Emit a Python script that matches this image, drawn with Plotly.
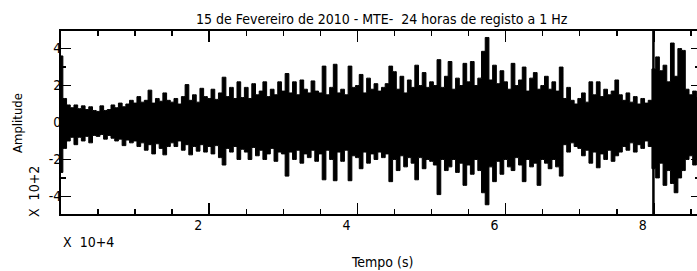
import plotly.graph_objects as go

# ---- data (amplitude in units of 10^2, time in seconds) ----
SAMPLE_STEP_S = 500

upper_amp = [
    3.6, 1.3, 0.95, 0.8, 0.95, 0.75, 0.9, 0.7, 0.85, 0.65,
    0.6, 0.9, 0.65, 0.7, 0.95, 0.8, 1.05, 0.85, 1.0, 1.2,
    1.05, 1.4, 1.1, 1.2, 1.75, 1.05, 1.3, 1.15, 1.6, 1.2,
    1.1, 1.3, 1.0, 1.4, 2.05, 1.2, 1.5, 1.1, 1.85, 1.4,
    1.3, 1.8, 1.25, 1.6, 2.45, 1.4, 1.9, 1.3, 2.2, 1.35,
    1.9, 1.3, 2.1, 1.5, 1.7, 2.2, 1.4, 1.8, 1.5, 2.2,
    1.7, 2.65, 1.6, 2.2, 1.5, 2.3, 1.8, 1.6, 2.25, 1.7,
    1.6, 3.05, 1.5, 1.9, 3.15, 1.6, 1.8, 1.5, 3.05, 1.9,
    2.0, 2.6, 1.6, 2.4, 1.8, 2.1, 1.7, 1.9, 2.1, 3.05,
    2.75, 1.8, 2.5, 1.6, 2.3, 1.9, 3.1, 2.0, 2.7, 1.9,
    2.2, 2.0, 3.4, 1.9, 2.5, 3.3, 1.8, 2.4, 2.0, 3.2,
    2.2, 3.3, 2.0, 2.4, 3.85, 4.6, 2.3, 3.1, 2.1, 2.8,
    2.2, 1.8, 3.2, 2.0, 2.3, 3.0, 1.7, 2.4, 2.7, 1.8,
    2.0, 2.5, 1.8, 2.2, 1.7, 3.0, 1.3, 1.9, 1.2, 1.0,
    1.3, 1.6, 1.1, 2.2, 1.5, 2.2, 1.4, 1.8, 1.5, 1.7,
    2.3, 1.5, 1.2, 1.6, 1.1, 1.4, 1.0, 1.3, 1.05, 1.2,
    2.9, 3.55, 2.8, 3.1, 2.2, 4.3, 2.5, 4.0, 3.9, 1.8, 1.5, 1.7, 1.4,
]

lower_amp = [
    -2.7, -1.4, -1.0, -0.8, -1.2, -0.8, -1.0, -0.75, -1.1, -0.7,
    -0.75, -0.65, -0.9, -0.7, -0.85, -1.0, -0.9, -1.25, -0.95, -1.1,
    -1.0, -1.3, -1.1, -1.5, -1.2, -1.7, -1.15, -1.4, -1.75, -1.3,
    -1.1, -1.3, -1.0, -1.5, -1.2, -1.75, -1.3, -1.55, -1.2, -1.6,
    -1.3, -1.7, -1.25, -1.9, -2.3, -1.4, -1.6, -1.3, -2.0, -1.45,
    -1.6, -2.0, -1.35, -1.8, -1.5, -2.0, -1.7, -1.4, -2.1, -1.6,
    -1.7, -2.9, -1.6, -2.0, -1.5, -2.2, -1.7, -1.9, -1.5, -2.1,
    -1.7, -3.1, -1.5, -2.0, -3.15, -1.6, -2.1, -1.5, -3.15, -1.8,
    -1.9, -2.5, -1.6, -2.2, -1.7, -2.0, -1.6, -1.9, -1.7, -3.2,
    -2.0, -2.6, -1.8, -2.4, -1.9, -2.2, -3.1, -1.9, -2.5, -2.0,
    -2.1, -2.3, -3.9, -2.0, -2.6, -2.4, -2.0, -2.7, -2.2, -3.4,
    -2.3, -2.8, -2.0, -2.6, -3.8, -4.45, -2.4, -3.2, -2.1, -2.8,
    -2.0, -2.4, -2.6, -1.9, -2.3, -3.2, -2.0, -2.4, -2.2, -3.4,
    -2.0, -2.2, -2.5, -2.0, -2.4, -2.9, -1.2, -1.6, -1.1, -1.3,
    -1.4, -1.8, -1.5, -2.2, -1.6, -2.45, -1.7, -2.0, -1.5, -2.1,
    -1.8, -1.6, -1.3, -1.5, -1.1, -1.6, -1.2, -1.4, -1.0, -1.3,
    -2.5, -3.0, -2.2, -3.4, -2.6, -3.3, -3.8, -3.0, -2.6, -2.0, -1.8, -2.3, -2.0,
]

sample_time_s = [i * SAMPLE_STEP_S for i in range(len(upper_amp))]

glitch_time_s = [79950, 79950]
glitch_amp = [-6.0, 6.0]

x_tick_values = [2, 4, 6, 8]
y_tick_values = [-4, -2, 0, 2, 4]

TIME_UNIT = 1e4  # axis shown in units of 10^4 s

title_text = "15 de Fevereiro de 2010 - MTE-\u00a0\u00a024 horas de registo a 1 Hz"
x_title = "Tempo (s)"
y_title = "Amplitude"
x_exp = "X  10+4"
y_exp = "X  10+2"

FONT = "Liberation Sans Narrow, DejaVu Sans Condensed, Arial Narrow, Roboto, sans-serif"

t = [s / TIME_UNIT for s in sample_time_s]
poly_x = t + t[::-1]
poly_y = upper_amp + lower_amp[::-1]

fig = go.Figure()
fig.add_trace(go.Scatter(
    x=poly_x, y=poly_y, mode="lines", fill="toself",
    fillcolor="black", line=dict(color="black", width=1, shape="hvh"),
    hoverinfo="skip", showlegend=False,
))
fig.add_trace(go.Scatter(
    x=[s / TIME_UNIT for s in glitch_time_s], y=glitch_amp, mode="lines",
    line=dict(color="black", width=2.5), yaxis="y2",
    hoverinfo="skip", showlegend=False,
))

W, H = 697, 271
ML, MR, MT, MB = 61, 0, 31, 57
x_max = (W - ML - MR) / 74.1
y_lim = 4.95

axis_common = dict(showgrid=False, zeroline=False, color="black",
                   tickcolor="black", tickwidth=1.5)

fig.update_layout(
    width=W, height=H,
    margin=dict(l=ML, r=MR, t=MT, b=MB, pad=0),
    paper_bgcolor="white", plot_bgcolor="white",
    font=dict(family=FONT, size=14, color="black"),
    showlegend=False,
    xaxis=dict(
        range=[0, x_max], showline=True, linecolor="black", linewidth=2,
        mirror="ticks", ticks="inside", ticklen=11,
        tickvals=x_tick_values, ticktext=[str(v) for v in x_tick_values],
        minor=dict(tick0=0, dtick=0.5, ticks="inside", ticklen=5,
                   tickwidth=1.5, tickcolor="black", showgrid=False),
        ticklabelshift=-11, ticklabelstandoff=-3, tickfont=dict(size=14),
        **axis_common,
    ),
    yaxis=dict(
        range=[-y_lim, y_lim], showline=True, linecolor="black", linewidth=2,
        mirror=False, ticks="inside", ticklen=10,
        tickvals=y_tick_values, ticktext=[str(v) for v in y_tick_values],
        minor=dict(tick0=0, dtick=1, ticks="inside", ticklen=5,
                   tickwidth=1.5, tickcolor="black", showgrid=False),
        ticklabelstandoff=-5, tickfont=dict(size=14),
        **axis_common,
    ),
    yaxis2=dict(
        range=[-y_lim, y_lim], overlaying="y", side="right", anchor="x",
        showline=False, ticks="inside", ticklen=6,
        tickvals=y_tick_values, showticklabels=False,
        minor=dict(tick0=0, dtick=1, ticks="inside", ticklen=2,
                   tickwidth=1.5, tickcolor="black", showgrid=False),
        **axis_common,
    ),
    annotations=[
        dict(text=title_text, xref="paper", yref="paper",
             x=(381.5 - ML) / (W - ML - MR), y=1 + (MT - 18.5) / (H - MT - MB),
             xanchor="center", yanchor="middle", showarrow=False,
             font=dict(size=14)),
        dict(text=x_title, xref="paper", yref="paper",
             x=(381.5 - ML) / (W - ML - MR), y=-(262 - (H - MB)) / (H - MT - MB),
             xanchor="center", yanchor="middle", showarrow=False,
             font=dict(size=14)),
        dict(text=x_exp, xref="paper", yref="paper",
             x=0, y=-(242 - (H - MB)) / (H - MT - MB),
             xanchor="left", yanchor="middle", showarrow=False,
             font=dict(size=14)),
        dict(text=y_title, xref="paper", yref="paper",
             x=-(ML - 17) / (W - ML - MR), y=(H - MB - 123) / (H - MT - MB),
             xanchor="center", yanchor="middle", showarrow=False, textangle=-90,
             font=dict(size=13)),
        dict(text=y_exp, xref="paper", yref="paper",
             x=-(ML - 34) / (W - ML - MR), y=(H - MB - 192) / (H - MT - MB),
             xanchor="center", yanchor="middle", showarrow=False, textangle=-90,
             font=dict(size=14)),
    ],
)

fig.write_html("out.html",
               config={"displayModeBar": False, "staticPlot": True},
               post_script="document.body.style.margin='0px';document.body.style.overflow='hidden';")
